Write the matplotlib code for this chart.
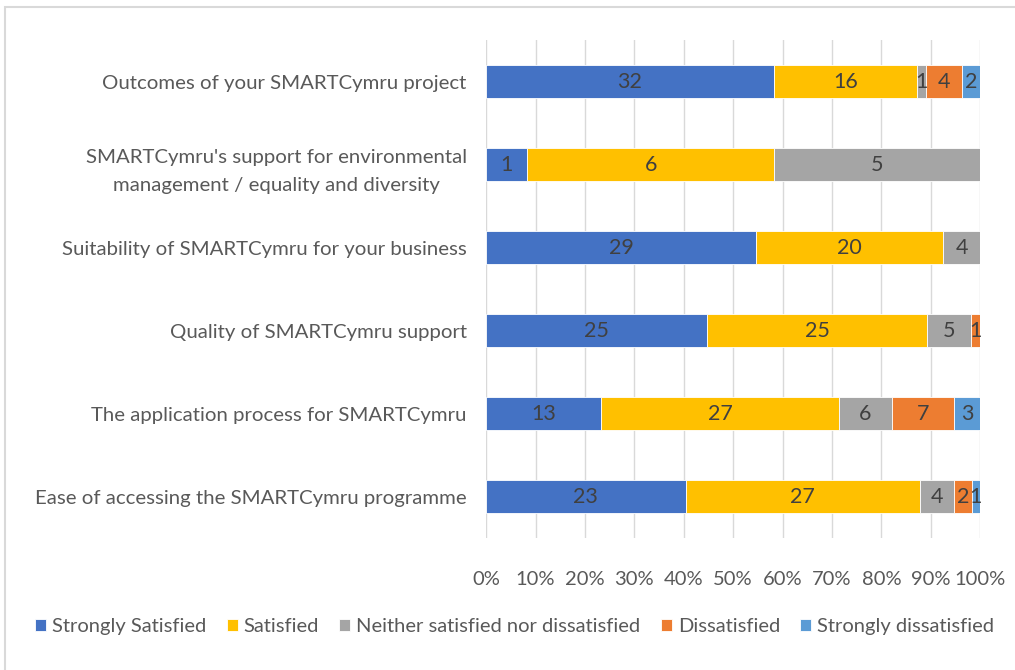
import matplotlib
matplotlib.use("Agg")
import matplotlib.pyplot as plt
from matplotlib.patches import Rectangle

plt.rcParams['font.family'] = ['Lato', 'DejaVu Sans']

categories = [
    "Outcomes of your SMARTCymru project",
    "SMARTCymru's support for environmental\nmanagement / equality and diversity",
    "Suitability of SMARTCymru for your business",
    "Quality of SMARTCymru support",
    "The application process for SMARTCymru",
    "Ease of accessing the SMARTCymru programme",
]
series_names = ["Strongly Satisfied", "Satisfied", "Neither satisfied nor dissatisfied",
                "Dissatisfied", "Strongly dissatisfied"]
strongly_satisfied = [32, 1, 29, 25, 13, 23]
satisfied = [16, 6, 20, 25, 27, 27]
neither = [1, 5, 4, 5, 6, 4]
dissatisfied = [4, 0, 0, 1, 7, 2]
strongly_dissatisfied = [2, 0, 0, 0, 3, 1]
tick_labels = ["0%", "10%", "20%", "30%", "40%", "50%", "60%", "70%", "80%", "90%", "100%"]

colors = ["#4472C4", "#FFC000", "#A5A5A5", "#ED7D31", "#5B9BD5"]
text_gray = "#595959"

series = [strongly_satisfied, satisfied, neither, dissatisfied, strongly_dissatisfied]
totals = [sum(vals) for vals in zip(*series)]

fig = plt.figure(figsize=(10.15, 6.7), dpi=100)
ax = fig.add_axes([0.479, 0.197, 0.4867, 0.743])

# outer chart frame, only left and top edges fall inside the picture
fig.patches.append(Rectangle((0.005, -0.05), 1.1, 1.04, transform=fig.transFigure,
                             fill=False, edgecolor="#D9D9D9", linewidth=1.5))

ypos = list(range(len(categories)))
left = [0.0] * len(categories)
for name, vals, col in zip(series_names, series, colors):
    shares = [v / t for v, t in zip(vals, totals)]
    ax.barh(ypos, shares, left=left, height=0.4, color=col, edgecolor="white",
            linewidth=0.6, label=name, zorder=3)
    for i, (v, s) in enumerate(zip(vals, shares)):
        if v > 0:
            ax.text(left[i] + s / 2, i, str(v), ha="center", va="center",
                    fontsize=15.5, color="#404040", zorder=4)
    left = [l + s for l, s in zip(left, shares)]

ax.set_ylim(len(categories) - 0.5, -0.5)
ax.set_xlim(0, 1)
ax.set_xticks([i / 10 for i in range(11)])
ax.set_xticklabels(tick_labels, fontsize=14.5, color=text_gray)
ax.set_yticks(ypos)
ax.set_yticklabels(categories, fontsize=14.7, color=text_gray)
for lbl in ax.get_yticklabels():
    lbl.set_multialignment("center")
    lbl.set_linespacing(1.75)
ax.tick_params(axis="y", length=0, pad=14)
ax.tick_params(axis="x", length=0, pad=24)
ax.grid(axis="x", color="#D9D9D9", linewidth=1, zorder=0)
for sp in ax.spines.values():
    sp.set_visible(False)

fig.legend(loc="center", bbox_to_anchor=(0.507, 0.065), ncol=5, frameon=False,
           fontsize=14.5, handlelength=0.55, handleheight=0.55, handletextpad=0.3,
           columnspacing=1.0, labelcolor=text_gray)

fig.savefig("out.png", dpi=100, facecolor="white")
